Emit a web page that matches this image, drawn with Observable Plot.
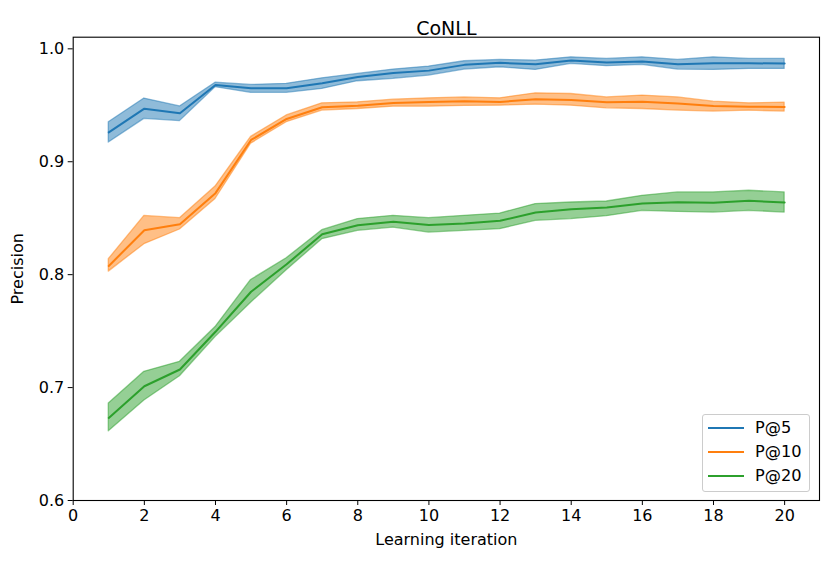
<!DOCTYPE html>
<html>
<head>
<meta charset="utf-8">
<script src="https://cdn.jsdelivr.net/npm/d3@7"></script>
<script src="https://cdn.jsdelivr.net/npm/@observablehq/plot@0.6"></script>
<style>
  html, body { margin: 0; padding: 0; background: #fff; }
  #wrap { position: relative; width: 831px; height: 563px; font-family: "DejaVu Sans", sans-serif; }
  #legend {
    position: absolute; left: 702px; top: 414px; width: 108px; height: 78px;
    border: 1px solid #cccccc; border-radius: 3px; background: rgba(255,255,255,0.8);
    box-sizing: border-box; font-size: 16.2px; color: #000;
  }
  .item { position: absolute; left: 0; height: 20px; }
  .sw { position: absolute; left: 5px; width: 36px; height: 0; border-top: 2px solid; }
  .lab { position: absolute; left: 52px; line-height: 18px; white-space: nowrap; }
</style>
</head>
<body>
<div id="wrap"></div>
<script>
const iterations = [1,2,3,4,5,6,7,8,9,10,11,12,13,14,15,16,17,18,19,20];

const p5Mean = [0.926,0.947,0.943,0.968,0.965,0.965,0.9695,0.975,0.9787,0.9807,0.9858,0.9876,0.9863,0.9896,0.9878,0.9887,0.9863,0.9872,0.9872,0.987];
const p5High = [0.935,0.956,0.949,0.970,0.968,0.969,0.9739,0.9778,0.9816,0.9843,0.9890,0.9902,0.9896,0.9925,0.9911,0.9925,0.9902,0.9925,0.9911,0.9911];
const p5Low  = [0.917,0.938,0.936,0.966,0.961,0.961,0.9645,0.9713,0.9734,0.9763,0.9816,0.9837,0.9813,0.9867,0.9846,0.9858,0.9816,0.9813,0.9822,0.9822];

const p10Mean = [0.8077,0.8394,0.8447,0.8722,0.9193,0.9379,0.9482,0.9497,0.952,0.953,0.9535,0.953,0.9553,0.9547,0.9526,0.9532,0.9515,0.9494,0.9488,0.9485];
const p10High = [0.8137,0.852,0.850,0.878,0.922,0.941,0.9517,0.9526,0.955,0.9562,0.957,0.9562,0.9606,0.96,0.957,0.9586,0.957,0.9532,0.9517,0.9523];
const p10Low  = [0.8027,0.827,0.840,0.867,0.916,0.935,0.9453,0.9467,0.9488,0.9488,0.9494,0.9497,0.9506,0.9497,0.9473,0.9467,0.9453,0.9444,0.9453,0.9444];

const p20Mean = [0.6731,0.7012,0.716,0.7494,0.7849,0.8092,0.8358,0.8438,0.8468,0.844,0.8453,0.8477,0.855,0.858,0.8595,0.863,0.8642,0.8636,0.8654,0.8639];
const p20High = [0.6859,0.714,0.7228,0.7536,0.7953,0.8145,0.8394,0.8492,0.8521,0.85,0.8521,0.8541,0.8625,0.8639,0.8648,0.8698,0.8728,0.8728,0.8743,0.8728];
const p20Low  = [0.6613,0.6886,0.710,0.7447,0.7752,0.8039,0.8314,0.8388,0.8417,0.8373,0.8388,0.8403,0.8477,0.8492,0.8518,0.8565,0.8556,0.855,0.8565,0.855];

const seriesNames = ["P@5", "P@10", "P@20"];
const seriesColors = ["#1f77b4", "#ff7f0e", "#2ca02c"];
const xTicks = [0,2,4,6,8,10,12,14,16,18,20];
const yTicks = [0.6,0.7,0.8,0.9,1.0];
const titleText = ["CoNLL"];
const xLabel = "Learning iteration";
const yLabel = "Precision";

const seriesData = [[p5Mean,p5Low,p5High],[p10Mean,p10Low,p10High],[p20Mean,p20Low,p20High]];
const rows = [];
seriesNames.forEach((name, s) => {
  iterations.forEach((it, i) => {
    rows.push({series: name, x: it, mean: seriesData[s][0][i], low: seriesData[s][1][i], high: seriesData[s][2][i]});
  });
});

const marks = [];
seriesNames.forEach((name, s) => {
  const d = rows.filter(r => r.series === name);
  marks.push(Plot.areaY(d, {x: "x", y1: "low", y2: "high", fill: seriesColors[s], fillOpacity: 0.5,
    stroke: seriesColors[s], strokeOpacity: 0.5, strokeWidth: 1.3}));
});
seriesNames.forEach((name, s) => {
  const d = rows.filter(r => r.series === name);
  marks.push(Plot.line(d, {x: "x", y: "mean", stroke: seriesColors[s], strokeWidth: 2}));
});

const chart = Plot.plot({
  width: 831,
  height: 563,
  marginLeft: 72.7,
  marginRight: 12,
  marginTop: 36.7,
  marginBottom: 63,
  style: {fontFamily: "DejaVu Sans, sans-serif", fontSize: "16px", color: "#000", background: "#fff"},
  x: {domain: [0, 20.98]},
  y: {domain: [0.6, 1.0103]},
  marks: [
    ...marks,
    Plot.frame({stroke: "#000", strokeWidth: 1.1}),
    Plot.axisX({ticks: xTicks, tickFormat: d => String(d), tickSize: 5, tickPadding: 4, fontSize: 16,
      label: xLabel, labelAnchor: "center", labelArrow: "none", labelOffset: 44}),
    Plot.axisY({ticks: yTicks, tickFormat: d3.format(".1f"), tickSize: 5, tickPadding: 4, fontSize: 16,
      label: yLabel, labelAnchor: "center", labelArrow: "none", labelOffset: 62}),
    Plot.text(titleText, {frameAnchor: "top", text: d => d, dy: -16, fontSize: 19})
  ]
});

const wrap = document.getElementById("wrap");
wrap.appendChild(chart);

const legend = document.createElement("div");
legend.id = "legend";
seriesNames.forEach((name, s) => {
  const item = document.createElement("div");
  item.className = "item";
  item.style.top = (3.5 + s * 24.3) + "px";
  const sw = document.createElement("div");
  sw.className = "sw";
  sw.style.borderTopColor = seriesColors[s];
  sw.style.top = "8px";
  const lab = document.createElement("div");
  lab.className = "lab";
  lab.textContent = name;
  lab.style.top = "0px";
  item.appendChild(sw);
  item.appendChild(lab);
  legend.appendChild(item);
});
wrap.appendChild(legend);
</script>
</body>
</html>
